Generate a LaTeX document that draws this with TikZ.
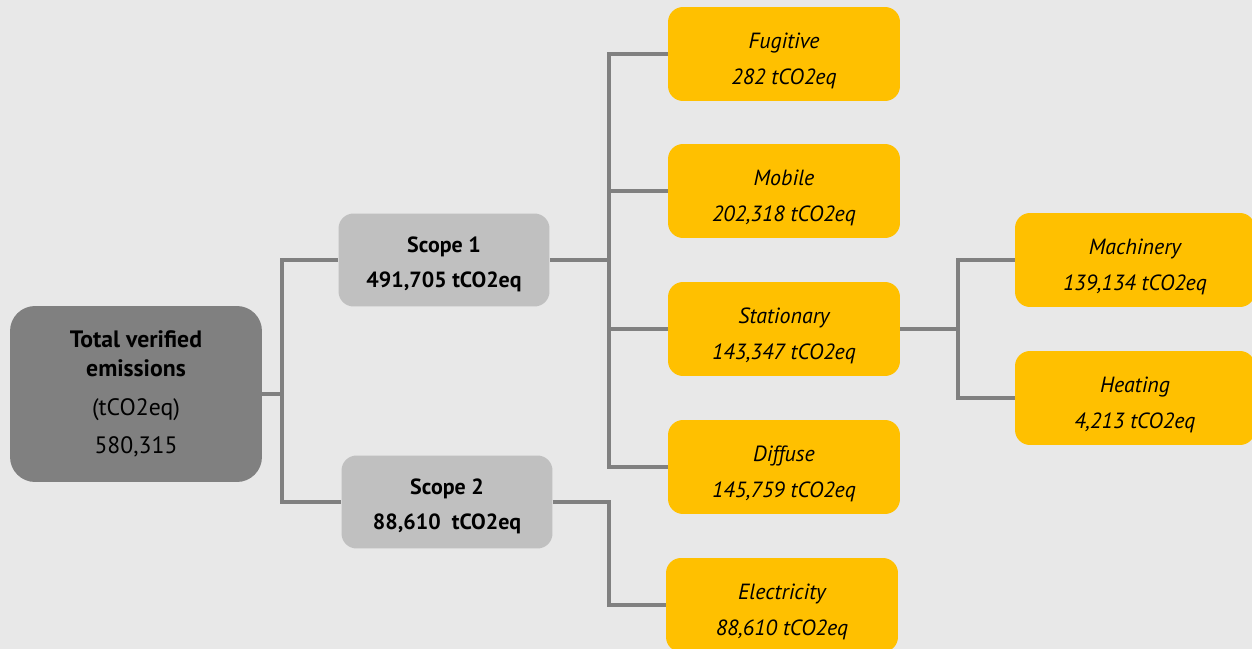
\documentclass[tikz,border=0pt]{standalone}
\usepackage{fontspec}
\setmainfont{PT Sans}
\usetikzlibrary{positioning}

\definecolor{bgcol}{HTML}{E8E8E8}
\definecolor{darkbox}{HTML}{808080}
\definecolor{lightbox}{HTML}{C0C0C0}
\definecolor{ambar}{HTML}{FFC000}
\definecolor{linkcol}{HTML}{808080}

% pushes a box's text down a little
\newcommand{\topgap}[1]{\rule{0pt}{#1}}

\begin{document}
\begin{tikzpicture}[
    x=0.02cm, y=-0.02cm,
    every node/.style={font=\fontsize{12.5}{19}\selectfont,align=center,text=black},
    totalbox/.style={fill=darkbox,rounded corners=0.5cm,minimum width=5.04cm,minimum height=3.52cm,inner sep=0pt,
        font=\fontsize{13.5}{16.5}\selectfont},
    scopebox/.style={fill=lightbox,rounded corners=0.3cm,minimum width=4.22cm,minimum height=1.86cm,inner sep=0pt,
        font=\fontsize{12.5}{20}\selectfont},
    srcbox/.style={fill=ambar,rounded corners=0.3cm,minimum width=4.64cm,minimum height=1.88cm,inner sep=0pt,
        font=\fontsize{12.5}{20.5}\selectfont\itshape},
    link/.style={draw=linkcol,line width=0.08cm}
]
\fill[bgcol] (0,0) rectangle (1252,649);
\useasboundingbox (0,0) rectangle (1252,649);

\node[totalbox] (total) at (136,394) {\textbf{Total verified}\\\textbf{emissions}\\[5.5pt](tCO2eq)\\[5.5pt]580,315};

\node[scopebox] (s1) at (444,260) {\topgap{14pt}\textbf{Scope 1}\\\textbf{491,705 tCO2eq}};
\node[scopebox] (s2) at (447,502) {\topgap{14pt}\textbf{Scope 2}\\\textbf{88,610\ \ tCO2eq}};

\node[srcbox] (fug) at (784,54) {\topgap{16.5pt}Fugitive\\282 tCO2eq};
\node[srcbox] (mob) at (784,191) {\topgap{16.5pt}Mobile\\202,318 tCO2eq};
\node[srcbox] (stat) at (784,329) {\topgap{16.5pt}Stationary\\143,347 tCO2eq};
\node[srcbox] (diff) at (784,467) {\topgap{16.5pt}Diffuse\\145,759 tCO2eq};
\node[srcbox] (elec) at (782,605) {\topgap{16.5pt}Electricity\\88,610 tCO2eq};

\node[srcbox,minimum width=4.8cm] (mach) at (1135,260) {\topgap{16.5pt}Machinery\\139,134 tCO2eq};
\node[srcbox,minimum width=4.8cm] (heat) at (1135,398) {\topgap{16.5pt}Heating\\4,213 tCO2eq};

% junctions
\coordinate (j1) at (282,394);
\coordinate (j2) at (609,260);
\coordinate (j3) at (609,605);
\coordinate (j4) at (958,329);

\draw[link] (total.east) -- (j1);
\draw[link] (j1) |- (s1);
\draw[link] (j1) |- (s2);

\draw[link] (s1.east) -- (j2);
\draw[link] (j2) |- (fug);
\draw[link] (j2) |- (mob);
\draw[link] (j2) |- (stat);
\draw[link] (j2) |- (diff);

\draw[link] (s2.east) -| (j3) -- (elec);

\draw[link] (stat.east) -- (j4);
\draw[link] (j4) |- (mach);
\draw[link] (j4) |- (heat);
\end{tikzpicture}
\end{document}
